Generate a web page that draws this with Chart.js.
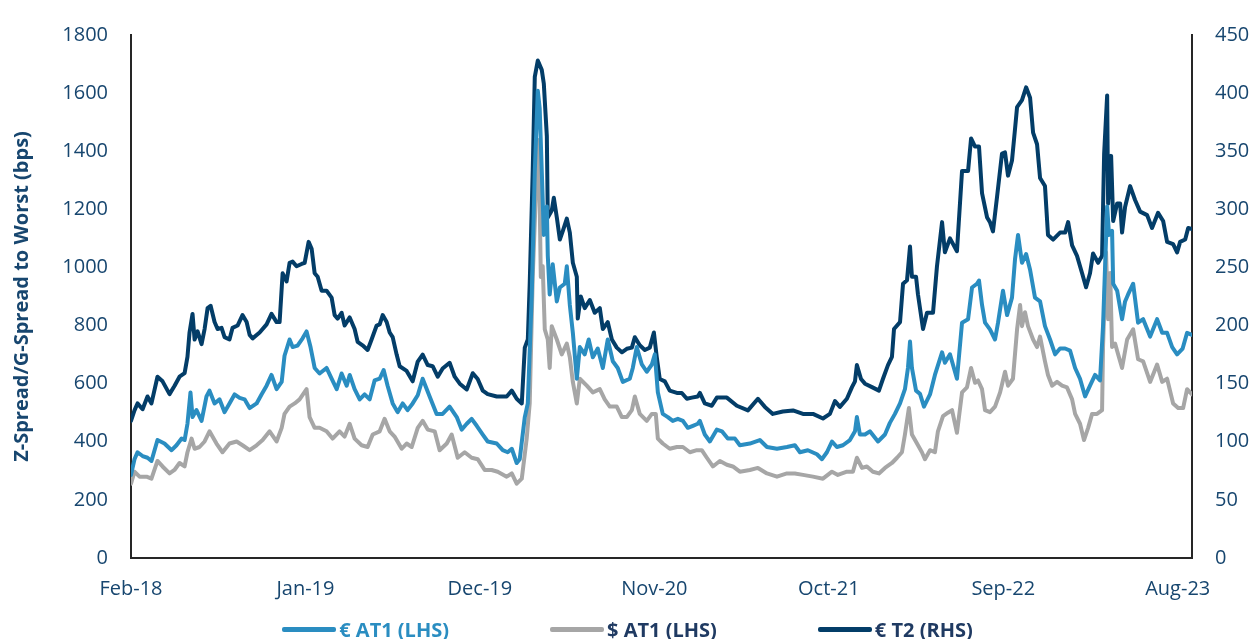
<!DOCTYPE html>
<html>
<head>
<meta charset="utf-8">
<script src="https://cdn.jsdelivr.net/npm/chart.js@4.4.1/dist/chart.umd.min.js"></script>
<style>
  html, body { margin: 0; padding: 0; background: #ffffff; }
  #wrap { position: relative; width: 1255px; height: 639px; }
  #legend {
    position: absolute; left: 0; top: 616px; width: 1255px; height: 26px;
    display: flex; justify-content: center; align-items: center; gap: 101px;
    font-family: 'Open Sans', sans-serif; font-weight: 700; font-size: 20px;
  }
  .item { display: flex; align-items: center; white-space: nowrap; }
  .swatch { display: inline-block; width: 54px; height: 5px; margin-right: 3px; border-radius: 2px; }
</style>
</head>
<body>
<div id="wrap">
  <canvas id="c" width="1255" height="639"></canvas>
  <div id="legend"></div>
</div>
<script>
// x = months since Feb-2018, y = spread
const tickMonths = [0, 11, 22, 33, 44, 55, 66];
const tickLabels = ['Feb-18', 'Jan-19', 'Dec-19', 'Nov-20', 'Oct-21', 'Sep-22', 'Aug-23'];

// € AT1 (bps, left axis)
const eurAt1 = [[0,286],[0.22,340],[0.41,364],[0.73,351],[1.04,345],[1.29,334],[1.67,406],[2.11,394],[2.56,371],[2.87,388],[3.19,411],[3.38,406],[3.56,462],[3.75,570],[3.88,485],[4.13,509],[4.45,472],[4.76,556],[4.95,576],[5.27,532],[5.58,546],[5.90,502],[6.21,532],[6.53,563],[6.85,551],[7.16,546],[7.48,516],[7.92,532],[8.23,563],[8.55,593],[8.86,630],[9.18,581],[9.50,606],[9.68,696],[10.0,752],[10.19,726],[10.50,731],[10.82,756],[11.07,780],[11.32,726],[11.58,654],[11.89,635],[12.33,654],[12.65,617],[12.97,581],[13.28,635],[13.60,593],[13.79,630],[14.10,581],[14.42,546],[14.73,563],[15.05,546],[15.36,611],[15.68,617],[15.93,647],[16.18,593],[16.50,532],[16.81,502],[17.13,532],[17.44,509],[17.76,532],[18.08,560],[18.39,617],[18.83,556],[19.27,496],[19.65,496],[20.09,521],[20.54,485],[20.85,442],[21.17,462],[21.48,479],[21.80,455],[22.18,425],[22.49,401],[23.06,394],[23.44,371],[23.75,364],[24.01,376],[24.32,327],[24.51,340],[24.83,485],[25.02,532],[25.27,907],[25.46,1331],[25.65,1608],[25.77,1547],[25.96,1234],[26.03,1112],[26.22,1210],[26.28,1041],[26.40,907],[26.59,1011],[26.85,883],[27.04,931],[27.35,944],[27.48,1004],[27.67,871],[27.86,775],[28.11,617],[28.30,726],[28.61,701],[28.86,752],[29.12,691],[29.43,721],[29.75,654],[30.06,752],[30.38,677],[30.69,654],[31.01,606],[31.45,617],[31.64,654],[31.89,726],[32.21,666],[32.52,641],[32.84,666],[33.03,701],[33.22,570],[33.53,496],[33.85,485],[34.16,472],[34.48,479],[34.80,472],[35.11,448],[35.43,455],[35.74,462],[35.87,472],[36.18,425],[36.50,401],[36.94,442],[37.26,436],[37.63,411],[38.08,411],[38.39,388],[39.02,394],[39.65,406],[40.10,382],[40.73,376],[41.36,382],[41.86,388],[42.18,364],[42.68,371],[43.25,357],[43.57,340],[43.88,364],[44.20,401],[44.51,382],[44.89,388],[45.33,406],[45.65,436],[45.77,485],[45.96,425],[46.28,425],[46.59,436],[47.10,401],[47.54,425],[47.85,465],[48.17,496],[48.49,532],[48.80,581],[48.99,654],[49.12,745],[49.24,654],[49.50,576],[49.75,565],[50.0,521],[50.38,563],[50.69,630],[51.14,708],[51.32,672],[51.64,701],[52.08,617],[52.40,810],[52.78,822],[53.03,931],[53.34,944],[53.47,955],[53.66,871],[53.85,810],[54.16,787],[54.48,752],[54.67,810],[54.98,920],[55.24,836],[55.55,896],[55.74,1028],[55.93,1112],[56.18,1016],[56.44,1046],[56.69,992],[57.00,896],[57.32,883],[57.63,798],[57.95,752],[58.27,701],[58.58,721],[58.90,721],[59.21,714],[59.53,654],[59.84,617],[60.16,556],[60.47,593],[60.79,630],[61.10,611],[61.29,798],[61.55,1210],[61.67,1112],[61.86,1126],[61.93,944],[62.18,920],[62.37,860],[62.49,822],[62.68,883],[62.87,907],[63.19,944],[63.50,810],[63.82,822],[64.26,762],[64.70,822],[65.02,775],[65.33,775],[65.65,726],[65.96,701],[66.31,721],[66.59,775],[66.9,768]];

// $ AT1 (bps, left axis)
const usdAt1 = [[0,256],[0.22,297],[0.54,280],[0.98,280],[1.29,273],[1.67,334],[1.99,315],[2.43,291],[2.74,303],[3.06,327],[3.38,315],[3.56,364],[3.82,411],[4.01,376],[4.32,382],[4.64,401],[4.95,436],[5.39,394],[5.77,364],[6.21,394],[6.66,401],[7.03,388],[7.48,371],[7.92,388],[8.30,406],[8.74,436],[9.18,401],[9.50,448],[9.68,496],[10.0,521],[10.32,532],[10.63,546],[11.07,581],[11.26,485],[11.58,448],[11.89,448],[12.33,436],[12.71,411],[13.15,436],[13.47,418],[13.79,462],[14.10,411],[14.54,388],[14.92,382],[15.24,425],[15.68,436],[15.99,479],[16.31,436],[16.62,418],[17.07,376],[17.38,394],[17.70,382],[18.08,448],[18.39,472],[18.71,442],[19.15,436],[19.46,371],[19.91,394],[20.22,425],[20.60,345],[21.04,364],[21.48,345],[21.86,340],[22.30,303],[22.74,303],[23.12,297],[23.69,280],[24.01,291],[24.32,256],[24.64,273],[24.95,411],[25.14,532],[25.33,967],[25.58,1331],[25.71,1439],[25.84,967],[25.96,1004],[26.09,787],[26.28,752],[26.40,654],[26.53,798],[26.85,752],[27.16,701],[27.48,738],[27.67,691],[27.86,606],[28.11,532],[28.30,617],[28.74,593],[29.12,570],[29.56,581],[29.87,546],[30.19,521],[30.63,521],[30.95,485],[31.26,485],[31.58,509],[31.77,556],[32.08,496],[32.52,472],[32.84,496],[33.09,496],[33.22,411],[33.53,394],[33.97,376],[34.42,382],[34.80,382],[35.24,364],[35.68,371],[35.99,371],[36.31,345],[36.69,315],[37.13,334],[37.57,321],[37.95,315],[38.39,297],[39.02,303],[39.53,310],[40.10,291],[40.73,280],[41.36,291],[41.86,291],[42.37,286],[43.00,280],[43.63,273],[44.20,297],[44.57,286],[45.14,297],[45.52,297],[45.77,345],[46.09,310],[46.40,315],[46.78,297],[47.16,291],[47.54,310],[47.98,327],[48.30,345],[48.61,364],[48.80,425],[49.05,516],[49.24,425],[49.56,394],[49.87,364],[50.06,340],[50.38,371],[50.69,364],[50.88,436],[51.20,488],[51.51,500],[51.77,509],[52.08,431],[52.40,570],[52.71,587],[52.97,654],[53.22,603],[53.41,611],[53.66,581],[53.85,509],[54.16,502],[54.48,521],[54.80,570],[55.11,641],[55.30,593],[55.61,617],[55.87,787],[56.06,871],[56.18,798],[56.37,846],[56.56,798],[56.88,752],[57.13,726],[57.32,762],[57.63,677],[57.82,630],[58.08,593],[58.39,606],[58.71,593],[59.02,587],[59.34,546],[59.53,496],[59.84,462],[60.09,406],[60.35,448],[60.60,496],[60.91,496],[61.23,509],[61.29,726],[61.48,1052],[61.61,822],[61.74,981],[61.86,726],[62.05,738],[62.24,701],[62.49,654],[62.81,752],[63.19,787],[63.50,684],[63.82,677],[64.26,606],[64.70,666],[65.02,606],[65.33,617],[65.71,532],[66.03,516],[66.34,516],[66.59,581],[66.9,563]];

// € T2 (bps, right axis)
const eurT2 = [[0,118],[0.22,127],[0.41,133],[0.73,128],[1.04,139],[1.29,133],[1.67,156],[1.99,152],[2.43,141],[2.74,148],[3.06,156],[3.38,159],[3.56,173],[3.69,194],[3.88,210],[4.01,188],[4.20,195],[4.45,184],[4.64,197],[4.83,215],[5.02,217],[5.27,203],[5.46,197],[5.71,198],[5.90,190],[6.21,188],[6.40,198],[6.72,200],[7.03,209],[7.29,203],[7.48,192],[7.67,189],[8.11,194],[8.55,201],[8.86,210],[9.18,203],[9.37,203],[9.56,245],[9.81,238],[10.0,254],[10.19,255],[10.44,251],[10.76,253],[10.95,254],[11.20,272],[11.39,266],[11.58,245],[11.77,242],[12.02,230],[12.33,230],[12.65,224],[12.84,209],[13.03,206],[13.28,211],[13.47,200],[13.79,207],[14.10,197],[14.29,186],[14.60,183],[14.92,179],[15.17,188],[15.49,200],[15.68,201],[15.87,209],[16.12,203],[16.31,194],[16.50,190],[16.75,175],[16.94,165],[17.38,161],[17.76,152],[18.08,169],[18.39,175],[18.71,166],[19.02,165],[19.34,156],[19.65,163],[20.09,168],[20.41,156],[20.73,150],[21.17,145],[21.55,159],[21.86,154],[22.18,144],[22.49,141],[23.06,139],[23.69,139],[24.01,144],[24.32,137],[24.64,133],[24.83,181],[25.02,188],[25.14,236],[25.33,333],[25.46,414],[25.65,428],[25.90,420],[26.03,408],[26.22,363],[26.28,293],[26.53,299],[26.66,310],[26.85,293],[27.04,274],[27.22,281],[27.48,292],[27.67,280],[27.86,254],[28.11,242],[28.17,206],[28.36,225],[28.61,215],[28.93,222],[29.24,211],[29.56,215],[29.75,197],[30.06,203],[30.32,188],[30.63,181],[30.95,177],[31.26,180],[31.58,181],[31.77,190],[32.08,183],[32.40,179],[32.71,181],[32.97,194],[33.15,173],[33.34,154],[33.66,152],[33.97,144],[34.42,142],[34.73,142],[35.05,137],[35.36,138],[35.74,139],[35.87,142],[36.18,133],[36.62,131],[36.94,138],[37.57,138],[38.20,131],[38.90,127],[39.53,137],[39.97,130],[40.47,124],[41.10,126],[41.74,127],[42.37,124],[43.00,124],[43.63,120],[44.07,124],[44.39,135],[44.70,130],[45.14,137],[45.46,147],[45.65,152],[45.77,166],[46.03,154],[46.28,150],[46.72,147],[47.16,144],[47.41,154],[47.73,166],[47.98,173],[48.11,197],[48.49,203],[48.68,236],[48.93,239],[49.12,268],[49.24,242],[49.50,242],[49.62,227],[49.94,197],[50.19,211],[50.57,211],[50.82,251],[51.14,289],[51.32,263],[51.64,275],[52.08,264],[52.40,333],[52.78,333],[52.97,361],[53.22,354],[53.47,354],[53.66,314],[53.98,293],[54.16,289],[54.35,281],[54.61,311],[54.92,348],[55.11,349],[55.30,329],[55.55,342],[55.74,369],[55.87,388],[56.18,394],[56.44,405],[56.69,396],[56.88,366],[57.13,356],[57.32,327],[57.63,320],[57.82,278],[58.14,274],[58.58,280],[58.90,280],[59.09,289],[59.34,269],[59.65,260],[59.97,245],[60.22,233],[60.47,245],[60.66,262],[60.98,254],[61.23,260],[61.36,348],[61.55,398],[61.61,305],[61.80,346],[61.93,290],[62.18,305],[62.37,305],[62.49,280],[62.68,302],[63.00,320],[63.31,308],[63.63,298],[64.07,295],[64.38,284],[64.76,297],[65.08,290],[65.33,272],[65.71,270],[65.96,263],[66.15,272],[66.47,274],[66.66,284],[66.9,283]];

const seriesNames = ['€ AT1 (LHS)', '$ AT1 (LHS)', '€ T2 (RHS)'];
const lineColors = ['#2A8DC1', '#A6A6A6', '#033D68'];
const legendTextColors = ['#2A8DC1', '#1F3A62', '#1F3A62'];

const textColor = '#17466F';
const axisColor = '#262626';
const tickFont = { family: "'Open Sans', sans-serif", size: 20 };

const toPoints = arr => arr.map(([m, v]) => ({ x: m, y: v }));
const plainNumber = v => String(v);

const ctx = document.getElementById('c').getContext('2d');
new Chart(ctx, {
  type: 'line',
  data: {
    datasets: [
      { label: seriesNames[0], data: toPoints(eurAt1), borderColor: lineColors[0], backgroundColor: lineColors[0], yAxisID: 'y' },
      { label: seriesNames[1], data: toPoints(usdAt1), borderColor: lineColors[1], backgroundColor: lineColors[1], yAxisID: 'y' },
      { label: seriesNames[2], data: toPoints(eurT2), borderColor: lineColors[2], backgroundColor: lineColors[2], yAxisID: 'y2' }
    ]
  },
  options: {
    responsive: false,
    animation: false,
    devicePixelRatio: 1,
    layout: { padding: { top: 24, left: 0, right: 0, bottom: 0 } },
    elements: {
      line: { borderWidth: 4, tension: 0, borderJoinStyle: 'round', borderCapStyle: 'round', fill: false },
      point: { radius: 0, hoverRadius: 0 }
    },
    plugins: { legend: { display: false }, tooltip: { enabled: false } },
    scales: {
      x: {
        type: 'linear',
        min: 0,
        max: 66.9,
        afterBuildTicks: s => { s.ticks = tickMonths.map(v => ({ value: v })); },
        afterFit: s => { s.height = 81; },
        ticks: {
          autoSkip: false, maxRotation: 0, minRotation: 0,
          padding: 19, color: textColor, font: tickFont,
          callback: v => tickLabels[tickMonths.indexOf(v)]
        },
        grid: { display: false, drawTicks: false },
        border: { display: true, color: axisColor, width: 2 }
      },
      y: {
        position: 'left',
        min: 0, max: 1800,
        afterFit: s => { s.width = 131; },
        ticks: { stepSize: 200, padding: 23, color: textColor, font: tickFont, callback: plainNumber },
        grid: { display: false, drawTicks: false },
        border: { display: true, color: axisColor, width: 2 },
        title: {
          display: true,
          text: 'Z-Spread/G-Spread to Worst (bps)',
          color: textColor,
          font: { family: "'Open Sans', sans-serif", size: 20, weight: 'bold' },
          padding: { top: 10, bottom: 0 }
        }
      },
      y2: {
        position: 'right',
        min: 0, max: 450,
        afterFit: s => { s.width = 63; },
        ticks: { stepSize: 50, padding: 23, color: textColor, font: tickFont, callback: plainNumber },
        grid: { display: false, drawTicks: false },
        border: { display: true, color: axisColor, width: 2 }
      }
    }
  }
});

// legend row under the plot
const legend = document.getElementById('legend');
seriesNames.forEach((name, i) => {
  const item = document.createElement('span');
  item.className = 'item';
  const sw = document.createElement('span');
  sw.className = 'swatch';
  sw.style.background = lineColors[i];
  const txt = document.createElement('span');
  txt.textContent = name;
  txt.style.color = legendTextColors[i];
  item.appendChild(sw);
  item.appendChild(txt);
  legend.appendChild(item);
});
</script>
</body>
</html>
